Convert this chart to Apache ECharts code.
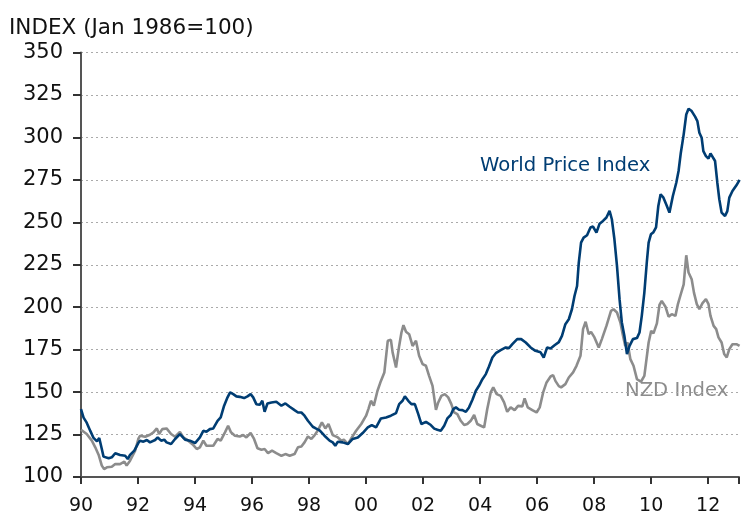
<!DOCTYPE html>
<html>
<head>
<meta charset="utf-8">
<script src="https://cdn.jsdelivr.net/npm/echarts@6/dist/echarts.min.js"></script>
<style>html,body{margin:0;padding:0;background:#fff}#c{width:742px;height:516px}</style>
</head>
<body>
<div id="c"></div>
<script>
var titleText = 'INDEX (Jan 1986=100)';
var worldLabel = 'World Price Index';
var nzdLabel = 'NZD Index';

var worldT = [1990.00,1990.09,1990.20,1990.33,1990.44,1990.56,1990.64,1990.73,1990.79,1990.97,1991.08,1991.20,1991.37,1991.55,1991.64,1991.72,1991.87,1992.01,1992.07,1992.19,1992.31,1992.42,1992.60,1992.69,1992.81,1992.92,1993.00,1993.16,1993.30,1993.47,1993.53,1993.65,1993.82,1994.00,1994.17,1994.29,1994.40,1994.52,1994.64,1994.79,1994.90,1995.02,1995.14,1995.23,1995.34,1995.45,1995.57,1995.72,1995.84,1995.95,1996.04,1996.15,1996.27,1996.36,1996.44,1996.54,1996.68,1996.85,1997.03,1997.17,1997.32,1997.49,1997.61,1997.73,1997.84,1997.96,1998.13,1998.25,1998.37,1998.54,1998.72,1998.83,1998.92,1999.01,1999.18,1999.36,1999.53,1999.71,1999.88,2000.06,2000.20,2000.35,2000.52,2000.70,2000.87,2001.05,2001.16,2001.28,2001.36,2001.48,2001.59,2001.71,2001.83,2001.94,2002.10,2002.27,2002.39,2002.50,2002.62,2002.74,2002.85,2002.97,2003.06,2003.15,2003.26,2003.38,2003.50,2003.61,2003.73,2003.85,2003.96,2004.08,2004.20,2004.31,2004.43,2004.55,2004.72,2004.90,2005.01,2005.13,2005.30,2005.44,2005.60,2005.77,2005.94,2006.12,2006.23,2006.35,2006.47,2006.61,2006.76,2006.87,2006.99,2007.11,2007.22,2007.31,2007.40,2007.46,2007.54,2007.63,2007.75,2007.87,2007.96,2008.08,2008.19,2008.31,2008.43,2008.54,2008.62,2008.71,2008.80,2008.89,2008.97,2009.06,2009.15,2009.24,2009.36,2009.50,2009.59,2009.67,2009.76,2009.85,2009.91,2009.99,2010.08,2010.17,2010.25,2010.33,2010.43,2010.55,2010.64,2010.76,2010.88,2010.96,2011.04,2011.14,2011.23,2011.31,2011.42,2011.54,2011.62,2011.69,2011.77,2011.83,2011.92,2012.01,2012.08,2012.15,2012.24,2012.32,2012.39,2012.47,2012.59,2012.67,2012.74,2012.85,2012.99,2013.10];
var worldV = [140,135,132,127,123,121,123,116.5,112,111,111.6,114,113,112.5,110.6,113,115.5,120,121.4,120.8,121.8,120.4,121.8,123.3,121.4,122,120.4,119.4,122.4,125.3,126,122,121.4,120,123.3,127.2,126.6,128.2,128.6,133.1,135.1,142,146.9,149.8,148.8,147.5,147.2,146.5,147.5,148.8,146.9,142.9,142.5,144.9,138.4,143.3,143.9,144.3,142,143.3,141.4,139.4,138,138,136.1,133.1,129.6,128.5,127.5,124.3,121.4,120.4,118.4,120.8,120.4,119.4,122.4,123.3,125.9,129.2,130.6,129.2,134.5,135.1,136.1,137.6,142.9,144.9,147.5,144.9,142.9,142.9,137,131.2,132.5,130.6,128.5,127.8,127.2,130.2,134.5,136.5,140,141,139.6,139.4,138.4,141,145.5,150.8,153.7,157.6,160.6,165.1,170.4,172.9,174.7,176.3,175.9,178.2,181.2,181.2,179.2,176.3,174.3,173.4,170.4,176.3,175.7,177.6,179.4,183.1,190,192.9,198.8,206.6,212.5,226.3,238,241,242.4,246.9,247.5,243.9,249.2,250.8,252.8,256.7,251.8,240,224.3,204.7,191,183.1,172.4,177.2,181.2,181.8,185.1,194.9,208.6,227.2,238,242.9,244.2,247,259.6,266.5,264.5,259.6,255.7,265.5,273.3,280.2,291,301.8,313.5,316.9,315.5,312.2,309.6,302.7,299.8,291.9,289,287.5,290.6,290.4,286.1,273.3,263.5,255.7,253.7,256.6,264.5,268.4,271.8,275];

var nzdT = [1990.00,1990.20,1990.38,1990.50,1990.62,1990.73,1990.81,1990.91,1991.08,1991.20,1991.37,1991.52,1991.60,1991.72,1991.90,1992.01,1992.07,1992.25,1992.42,1992.54,1992.66,1992.74,1992.85,1993.00,1993.16,1993.30,1993.47,1993.59,1993.76,1993.94,1994.06,1994.17,1994.29,1994.40,1994.64,1994.79,1994.90,1995.05,1995.16,1995.26,1995.40,1995.57,1995.69,1995.80,1995.95,1996.07,1996.19,1996.33,1996.44,1996.56,1996.70,1996.85,1997.03,1997.17,1997.32,1997.49,1997.61,1997.73,1997.84,1997.96,1998.08,1998.19,1998.31,1998.45,1998.57,1998.68,1998.83,1999.01,1999.13,1999.22,1999.36,1999.50,1999.65,1999.83,2000.00,2000.08,2000.17,2000.27,2000.40,2000.52,2000.64,2000.76,2000.87,2000.93,2001.05,2001.16,2001.24,2001.31,2001.40,2001.51,2001.63,2001.75,2001.86,2001.98,2002.10,2002.21,2002.33,2002.45,2002.53,2002.64,2002.76,2002.88,2002.99,2003.09,2003.20,2003.32,2003.44,2003.55,2003.67,2003.79,2003.90,2004.02,2004.14,2004.25,2004.37,2004.46,2004.58,2004.72,2004.84,2004.95,2005.07,2005.21,2005.33,2005.48,2005.56,2005.67,2005.83,2005.98,2006.09,2006.21,2006.33,2006.47,2006.56,2006.64,2006.76,2006.84,2006.99,2007.11,2007.26,2007.38,2007.52,2007.61,2007.70,2007.81,2007.89,2008.01,2008.16,2008.27,2008.43,2008.59,2008.68,2008.80,2008.92,2009.00,2009.09,2009.17,2009.27,2009.38,2009.50,2009.64,2009.76,2009.83,2009.91,2010.00,2010.08,2010.20,2010.29,2010.37,2010.50,2010.61,2010.72,2010.85,2010.94,2011.02,2011.14,2011.23,2011.31,2011.42,2011.50,2011.60,2011.69,2011.80,2011.92,2012.01,2012.08,2012.19,2012.28,2012.36,2012.47,2012.56,2012.65,2012.74,2012.85,2012.99,2013.10];
var nzdV = [127.8,125.3,121.4,117.5,113,106.7,104.7,105.7,106,107.6,107.6,109,106.7,109.6,115.5,122.4,124.3,123.7,124.9,126.3,128.6,125.3,128.2,128.6,125.3,123.7,126.6,123.3,121.4,118.8,116.5,117.5,121.4,118.4,118.4,122.4,121.4,126.3,130.2,126.3,124.3,123.9,124.7,123.3,125.9,122.4,116.9,116.1,116.5,114.1,115.5,114.1,112.5,113.5,112.5,113.5,117.5,118,120.4,123.9,122.4,124.5,127.5,132.2,128.6,131.2,124.7,123.3,121.4,122,119.4,123.3,127.2,131.2,136.1,140,144.9,142,150.8,156.6,161.6,180.2,180.8,173.4,164.5,177.2,185.1,189.4,185.5,184.1,177.2,180.2,171.4,166.5,165.5,159.6,153.7,139.5,143.9,147.8,148.8,146.9,142.9,138,137,133.1,130.6,131.2,133.1,136.5,131.2,130.2,129.2,140,149.8,152.8,148.8,147.8,143.9,138.4,141,139.4,141.9,141.6,146.3,141,139.4,138,141,149.8,155.7,159.2,160,156.6,153.5,152.8,154.7,158.6,161.6,165.5,171.4,187.1,191.4,184.1,185.5,182.2,176.3,181.2,189,197.8,198.8,196.9,191,184.1,177.2,179.2,169.4,165.5,157.6,156.1,159.6,160.6,179.2,186.1,184.6,190.5,201.3,203.7,200.3,194.4,195.9,194.9,202,206.6,213.5,230.6,220.4,216.5,208.6,201.8,198.8,202.4,204.7,201.8,194.9,189,187.1,182.2,179.2,172.4,170.4,175.3,178.2,178.2,177.2];

function zip(t, v) { return t.map(function (x, i) { return [x, v[i]]; }); }

var FONT = '"DejaVu Sans", Verdana, sans-serif';
var chart = echarts.init(document.getElementById('c'));
chart.setOption({
  animation: false,
  backgroundColor: '#ffffff',
  grid: { left: 81, right: 0, top: 52.5, bottom: 38.5, containLabel: false },
  xAxis: {
    type: 'value', min: 1990, max: 2013.08, interval: 2,
    axisLine: { show: true, onZero: false, lineStyle: { color: '#555555', width: 2 } },
    axisTick: { show: true, length: 7, lineStyle: { color: '#333333', width: 2 } },
    axisLabel: {
      margin: 20, color: '#111111', fontSize: 19, fontFamily: FONT,
      formatter: function (v) { if (v > 2012.5) return ''; return ('0' + Math.round(v % 100)).slice(-2); }
    },
    splitLine: { show: false }
  },
  yAxis: {
    type: 'value', min: 100, max: 350, interval: 25,
    axisLine: { show: true, lineStyle: { color: '#555555', width: 2 } },
    axisTick: { show: true, length: 8, lineStyle: { color: '#333333', width: 2 } },
    axisLabel: { margin: 18, color: '#111111', fontSize: 21, fontFamily: FONT },
    splitLine: { show: true, lineStyle: { color: '#aaaaaa', width: 1, type: [2, 3] } }
  },
  series: [
    {
      name: nzdLabel, type: 'line', data: zip(nzdT, nzdV), showSymbol: false,
      lineStyle: { color: '#8c8c8c', width: 2.6 }, itemStyle: { color: '#8c8c8c' }, z: 2
    },
    {
      name: worldLabel, type: 'line', data: zip(worldT, worldV), showSymbol: false,
      lineStyle: { color: '#003d73', width: 2.6 }, itemStyle: { color: '#003d73' }, z: 3
    }
  ],
  graphic: [
    { type: 'text', left: 9, top: 17, style: { text: titleText, fill: '#111111', font: '21.5px ' + FONT } },
    { type: 'text', left: 480, top: 156, style: { text: worldLabel, fill: '#003d73', font: '19.6px ' + FONT } },
    { type: 'text', left: 625, top: 381, style: { text: nzdLabel, fill: '#8c8c8c', font: '19.6px ' + FONT } }
  ]
});
</script>
</body>
</html>
